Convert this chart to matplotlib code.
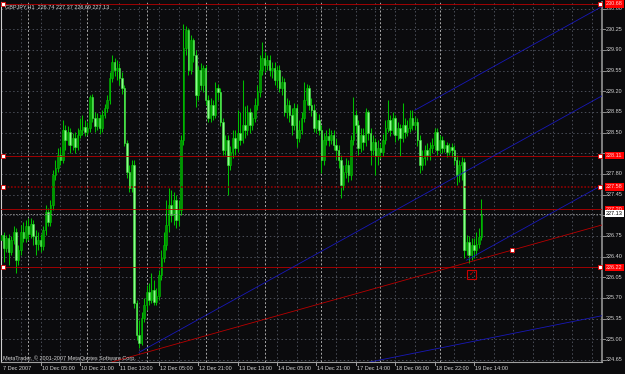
import numpy as np
import matplotlib.pyplot as plt
from matplotlib.transforms import blended_transform_factory

plt.rcParams['font.family'] = ['Liberation Sans', 'DejaVu Sans']

# GBPJPY H1 bars (bar 0 = 7 Dec 13:00)
bar_open = [226.68, 226.77, 226.55, 226.72, 226.48, 226.68, 226.82, 226.34, 226.51, 226.82,
            226.72, 226.92, 226.78, 226.95, 226.75, 226.61, 226.68, 226.58, 226.85, 227.16,
            226.99, 227.27, 227.78, 227.90, 228.12, 228.04, 228.54, 228.38, 228.51, 228.29,
            228.41, 228.26, 228.46, 228.54, 228.60, 228.51, 228.58, 229.10, 228.75, 228.61,
            228.75, 228.58, 228.80, 228.92, 229.05, 229.43, 229.70, 229.56, 229.59, 229.43,
            229.26, 228.32, 227.83, 227.56, 227.95, 225.61, 225.07, 224.94, 225.36, 225.58,
            225.80, 225.67, 225.83, 225.63, 225.73, 226.09, 226.38, 226.60, 226.94, 227.27,
            227.11, 227.36, 227.02, 227.19, 228.38, 229.93, 230.24, 229.56, 230.07, 229.81,
            229.14, 229.56, 229.31, 229.59, 229.05, 228.75, 228.97, 228.80, 229.26, 229.19,
            228.68, 228.21, 228.38, 227.95, 228.17, 228.41, 228.24, 228.49, 228.38, 228.63,
            228.54, 228.85, 228.63, 228.75, 228.97, 229.19, 229.56, 229.76, 229.65, 229.73,
            229.56, 229.59, 229.39, 229.56, 229.26, 229.36, 228.85, 228.97, 228.80, 228.63,
            228.92, 228.41, 228.54, 228.75, 229.05, 229.26, 228.97, 228.88, 228.58, 228.71,
            228.54, 228.04, 228.38, 228.44, 228.38, 228.46, 228.29, 228.21, 228.04, 227.61,
            227.83, 227.95, 227.78, 228.38, 228.80, 228.63, 228.24, 228.46, 228.34, 228.85,
            228.49, 228.21, 228.34, 228.10, 228.24, 228.17, 228.38, 228.58, 228.71, 228.54,
            228.75, 228.46, 228.58, 228.41, 228.63, 228.51, 228.58, 228.75, 228.63, 228.68,
            228.38, 227.95, 228.07, 228.21, 228.12, 228.24, 228.29, 228.51, 228.21, 228.38,
            228.24, 228.29, 228.17, 228.26, 228.21, 228.04, 227.78, 227.95, 228.00, 226.51,
            226.65, 226.43, 226.60, 226.51, 226.61, 226.74]
bar_high = [226.85, 226.82, 226.77, 226.78, 226.75, 226.92, 226.88, 226.60, 226.94, 226.99,
            227.02, 227.05, 227.05, 227.02, 226.85, 226.82, 226.78, 226.92, 227.27, 227.22,
            227.36, 227.87, 228.04, 228.24, 228.26, 228.71, 228.63, 228.61, 228.58, 228.49,
            228.51, 228.58, 228.75, 228.80, 228.71, 228.68, 229.14, 229.15, 228.85, 228.83,
            228.82, 228.88, 228.98, 229.14, 229.53, 229.81, 229.76, 229.73, 229.68, 229.53,
            229.31, 228.38, 227.95, 228.04, 228.04, 225.67, 225.33, 225.46, 225.70, 225.92,
            225.95, 226.12, 226.00, 225.87, 226.17, 226.51, 226.82, 227.36, 227.56, 227.53,
            227.49, 227.44, 227.36, 228.46, 230.34, 230.31, 230.27, 230.15, 230.10, 229.90,
            229.63, 229.68, 229.65, 229.65, 229.14, 229.09, 229.05, 229.36, 229.32, 229.26,
            228.75, 228.46, 228.46, 228.27, 228.54, 228.54, 228.88, 228.85, 229.39, 228.95,
            228.97, 228.92, 228.85, 229.09, 229.31, 229.81, 230.03, 229.87, 229.81, 229.81,
            229.70, 229.70, 229.63, 229.65, 229.46, 229.43, 229.09, 229.05, 228.92, 229.00,
            228.98, 228.71, 228.85, 229.36, 229.32, 229.31, 229.09, 228.98, 228.85, 228.82,
            228.63, 228.49, 228.54, 228.58, 228.54, 228.54, 228.41, 228.29, 228.12, 227.95,
            228.07, 228.04, 228.46, 229.10, 228.88, 228.71, 228.58, 228.58, 228.92, 228.88,
            228.58, 228.46, 228.41, 228.38, 228.32, 228.48, 228.71, 229.05, 228.80, 228.85,
            228.80, 228.68, 228.65, 229.00, 228.75, 228.71, 228.88, 228.88, 228.78, 228.75,
            228.46, 228.21, 228.29, 228.32, 228.34, 228.41, 228.58, 228.58, 228.46, 228.44,
            228.38, 228.34, 228.32, 228.32, 228.29, 228.12, 228.04, 228.09, 228.07, 226.77,
            226.75, 226.72, 226.72, 226.82, 226.88, 227.37]
bar_low = [226.61, 226.31, 226.48, 226.26, 226.43, 226.61, 226.12, 226.26, 226.43, 226.65,
           226.65, 226.68, 226.72, 226.60, 226.43, 226.51, 226.48, 226.51, 226.77, 226.92,
           226.92, 227.19, 227.70, 227.83, 227.95, 227.99, 228.21, 228.29, 228.15, 228.21,
           228.15, 228.21, 228.41, 228.46, 228.44, 228.46, 228.51, 228.68, 228.51, 228.54,
           228.48, 228.51, 228.75, 228.85, 228.98, 229.36, 229.46, 229.39, 229.31, 229.15,
           228.27, 227.73, 227.49, 227.49, 225.53, 224.99, 224.85, 224.90, 225.29, 225.50,
           225.58, 225.61, 225.58, 225.58, 225.67, 226.00, 226.31, 226.51, 226.82, 226.99,
           226.94, 226.88, 226.92, 227.11, 228.29, 229.81, 229.48, 229.49, 229.70, 228.93,
           229.05, 229.22, 229.19, 228.97, 228.68, 228.68, 228.71, 228.75, 229.05, 228.61,
           228.12, 228.12, 227.44, 227.87, 228.07, 228.12, 228.17, 228.29, 228.32, 228.41,
           228.46, 228.49, 228.54, 228.68, 228.88, 229.10, 229.48, 229.53, 229.56, 229.46,
           229.43, 229.31, 229.26, 229.19, 229.14, 228.78, 228.75, 228.68, 228.46, 228.54,
           228.26, 228.34, 228.48, 228.68, 228.97, 228.88, 228.78, 228.51, 228.49, 228.46,
           227.82, 227.95, 228.29, 228.27, 228.31, 228.21, 228.04, 227.90, 227.39, 227.53,
           227.73, 227.66, 227.70, 228.29, 228.49, 228.12, 228.17, 228.21, 228.27, 228.38,
           227.95, 228.12, 227.78, 227.95, 228.07, 228.10, 228.31, 228.51, 228.44, 228.48,
           228.34, 228.38, 228.10, 228.34, 228.41, 228.44, 228.51, 228.54, 228.54, 228.27,
           227.82, 227.87, 227.95, 228.04, 228.04, 228.15, 228.21, 228.12, 228.15, 228.15,
           228.17, 228.09, 228.12, 228.09, 227.95, 227.61, 227.66, 227.70, 226.38, 226.43,
           226.29, 226.34, 226.38, 226.43, 226.55, 226.69]
bar_close = [226.77, 226.55, 226.72, 226.48, 226.68, 226.82, 226.34, 226.51, 226.82, 226.72,
             226.92, 226.78, 226.95, 226.75, 226.61, 226.68, 226.58, 226.85, 227.16, 226.99,
             227.27, 227.78, 227.90, 228.12, 228.04, 228.54, 228.38, 228.51, 228.29, 228.41,
             228.26, 228.46, 228.54, 228.60, 228.51, 228.58, 229.10, 228.75, 228.61, 228.75,
             228.58, 228.80, 228.92, 229.05, 229.43, 229.70, 229.56, 229.59, 229.43, 229.26,
             228.32, 227.83, 227.56, 227.95, 225.61, 225.07, 224.94, 225.36, 225.58, 225.80,
             225.67, 225.83, 225.63, 225.73, 226.09, 226.38, 226.60, 226.94, 227.27, 227.11,
             227.36, 227.02, 227.19, 228.38, 229.93, 230.24, 229.56, 230.07, 229.81, 229.14,
             229.56, 229.31, 229.59, 229.05, 228.75, 228.97, 228.80, 229.26, 229.19, 228.68,
             228.21, 228.38, 227.95, 228.17, 228.41, 228.24, 228.49, 228.38, 228.63, 228.54,
             228.85, 228.63, 228.75, 228.97, 229.19, 229.56, 229.76, 229.65, 229.73, 229.56,
             229.59, 229.39, 229.56, 229.26, 229.36, 228.85, 228.97, 228.80, 228.63, 228.92,
             228.41, 228.54, 228.75, 229.05, 229.26, 228.97, 228.88, 228.58, 228.71, 228.54,
             228.04, 228.38, 228.44, 228.38, 228.46, 228.29, 228.21, 228.04, 227.61, 227.83,
             227.95, 227.78, 228.38, 228.80, 228.63, 228.24, 228.46, 228.34, 228.85, 228.49,
             228.21, 228.34, 228.10, 228.24, 228.17, 228.38, 228.58, 228.71, 228.54, 228.75,
             228.46, 228.58, 228.41, 228.63, 228.51, 228.58, 228.75, 228.63, 228.68, 228.38,
             227.95, 228.07, 228.21, 228.12, 228.24, 228.29, 228.51, 228.21, 228.38, 228.24,
             228.29, 228.17, 228.26, 228.21, 228.04, 227.78, 227.95, 228.00, 226.51, 226.65,
             226.43, 226.60, 226.51, 226.61, 226.74, 227.13]

# time axis
first_label = '7 Dec 2007'
time_labels = ['10 Dec 05:00', '10 Dec 21:00', '11 Dec 13:00', '12 Dec 05:00',
               '12 Dec 21:00', '13 Dec 13:00', '14 Dec 05:00', '14 Dec 21:00',
               '17 Dec 14:00', '18 Dec 06:00', '18 Dec 22:00', '19 Dec 14:00']
time_label_bars = [16, 32, 48, 64, 80, 96, 112, 128, 144, 160, 176, 192]
day_start_bars = [11, 35, 59, 83, 107, 130, 154, 178]

# price axis
price_ticks = [224.65, 225.00, 225.35, 225.70, 226.05, 226.40, 226.75, 227.10, 227.45,
               227.80, 228.15, 228.50, 228.85, 229.20, 229.55, 229.90, 230.25, 230.60]

# horizontal lines drawn on the chart
hline_prices = [230.68, 228.11, 227.58, 227.20, 226.22]
hline_selected = [True, True, True, False, True]
dotted_line_price = 227.58
current_price = 227.13
title = 'GBPJPY,H1  226.74 227.37 226.69 227.13'

# Andrews pitchfork anchors (bar, price)
fork_bars = [56, 168, 189]
fork_prices = [224.78, 228.88, 226.34]

# trend lines (two anchor points each)
red_trend_bars = [56.4, 207.4]
red_trend_prices = [224.75, 226.51]
blue_trend_bars = [153.8, 244.0]
blue_trend_prices = [224.65, 225.40]

# check-mark arrow object
arrow_bar = 191
arrow_price = 226.10

bg = '#0b0b0d'
red = '#b80000'
blue = '#1818b8'
txt = '#d4d4d4'

fig = plt.figure(figsize=(6.25, 3.74), dpi=100, facecolor=bg)
ax = fig.add_axes([1 / 625, 12 / 374, 601 / 625, 360 / 374])
ax.set_facecolor(bg)
ax.set_xlim(-0.1, 244.0)
ax.set_ylim(224.616, 230.712)
ax.set_xticks([])
ax.set_yticks([])
ax.spines['top'].set_visible(False)
ax.spines['left'].set_color('#cfcfcf')
ax.spines['bottom'].set_color('#a0a0a0')
ax.spines['right'].set_color('#8a8a8a')
ax.spines['right'].set_linewidth(1.3)

# grid
for p in price_ticks:
    ax.axhline(p, color='#4a4e58', lw=0.7, ls=(0, (1.5, 2.5)), zorder=0)
for b in range(8, 245, 8):
    ax.axvline(b, color='#4a4e58', lw=0.7, ls=(0, (1.5, 2.5)), zorder=0)
for b in day_start_bars:
    ax.axvline(b, color='#a8a8a8', lw=0.7, ls=(0, (2, 2)), zorder=0)

# candles
o = np.array(bar_open)
h = np.array(bar_high)
l = np.array(bar_low)
c = np.array(bar_close)
x = np.arange(len(o))
up = c >= o
ax.vlines(x, l, h, color='#00be00', lw=0.75, zorder=2)
body_lo = np.minimum(o, c)
body_h = np.maximum(np.abs(c - o), 0.012)
ax.bar(x[up], body_h[up], bottom=body_lo[up], width=0.62, color='#009600',
       edgecolor='#00c000', lw=0.4, zorder=3)
ax.bar(x[~up], body_h[~up], bottom=body_lo[~up], width=0.62, color='#8cff8c',
       edgecolor='#3de23d', lw=0.4, zorder=3)

# horizontal lines
for p in hline_prices:
    if p == dotted_line_price:
        ax.axhline(p, color='#8c0000', lw=1.2, ls=(0, (1, 1)), zorder=4)
    else:
        ax.axhline(p, color=red, lw=0.6, zorder=4)
ax.axhline(current_price, color='#8a8a8a', lw=0.7, ls=(0, (1.5, 1.5)), zorder=4)

# pitchfork
mid_bar = (fork_bars[1] + fork_bars[2]) / 2
mid_price = (fork_prices[1] + fork_prices[2]) / 2
slope = (mid_price - fork_prices[0]) / (mid_bar - fork_bars[0])
x_end = 260
for b0, p0 in zip(fork_bars, fork_prices):
    ax.plot([b0, x_end], [p0, p0 + slope * (x_end - b0)], color=blue, lw=0.6, zorder=4)

# trend lines
ax.axline((red_trend_bars[0], red_trend_prices[0]), (red_trend_bars[1], red_trend_prices[1]),
          color=red, lw=0.6, zorder=4)
ax.axline((blue_trend_bars[0], blue_trend_prices[0]), (blue_trend_bars[1], blue_trend_prices[1]),
          color=blue, lw=0.6, zorder=4)

# selection markers
for p, sel in zip(hline_prices, hline_selected):
    if sel:
        ax.plot([0.9, 243.3], [p, p], ls='none', marker='s', ms=2.4, mfc='white',
                mec='#e00000', mew=0.6, zorder=6, clip_on=False)
ax.plot([red_trend_bars[1]], [red_trend_prices[1]], ls='none', marker='s', ms=2.4,
        mfc='white', mec='#e00000', mew=0.6, zorder=6)

# check mark object
ax.text(arrow_bar, arrow_price, '\u2713', ha='center', va='center', color='#c80000',
        fontsize=5, family=['DejaVu Sans'], zorder=6,
        bbox=dict(boxstyle='square,pad=0.25', fc='none', ec='#c80000', lw=0.8))

# price axis labels
ty = blended_transform_factory(ax.transAxes, ax.transData)
px = 1 / 601
for p in price_ticks:
    ax.plot([1, 1 + 3 * px], [p, p], color='#8a8a8a', lw=0.7, transform=ty, clip_on=False)
    if min(abs(p - q) for q in hline_prices + [current_price]) < 0.08:
        continue
    ax.text(1 + 4 * px, p, '%.2f' % p, transform=ty, ha='left', va='center',
            fontsize=4, color=txt)
for p in hline_prices:
    ax.text(1 + 4 * px, p, '%.2f' % p, transform=ty, ha='left', va='center',
            fontsize=4, color='#ffd0d0', zorder=7,
            bbox=dict(boxstyle='square,pad=0.2', fc='#ff0000', ec='none'))
ax.text(1 + 4 * px, current_price, '%.2f' % current_price, transform=ty, ha='left',
        va='center', fontsize=4, color='black', zorder=8,
        bbox=dict(boxstyle='square,pad=0.2', fc='white', ec='none'))

# time axis labels
tx = blended_transform_factory(ax.transData, ax.transAxes)
py = 1 / 360
ax.text(2 * px, -7 * py, first_label, transform=ax.transAxes, ha='left', va='center',
        fontsize=4, color=txt)
for b, lab in zip(time_label_bars, time_labels):
    ax.plot([b, b], [0, -3 * py], color='#a0a0a0', lw=0.7, transform=tx, clip_on=False)
    ax.text(b + 0.4, -7 * py, lab, transform=tx, ha='left', va='center', fontsize=4,
            color=txt)

# texts on chart
fig.text(5 / 625, 1 - 7 / 374, title, ha='left', va='center', fontsize=4, color=txt)
fig.text(3 / 625, 1 - 358 / 374, 'MetaTrader, \u00a9 2001-2007 MetaQuotes Software Corp.',
         ha='left', va='center', fontsize=4, color=txt)

fig.savefig('out.png', dpi=100, facecolor=bg)
